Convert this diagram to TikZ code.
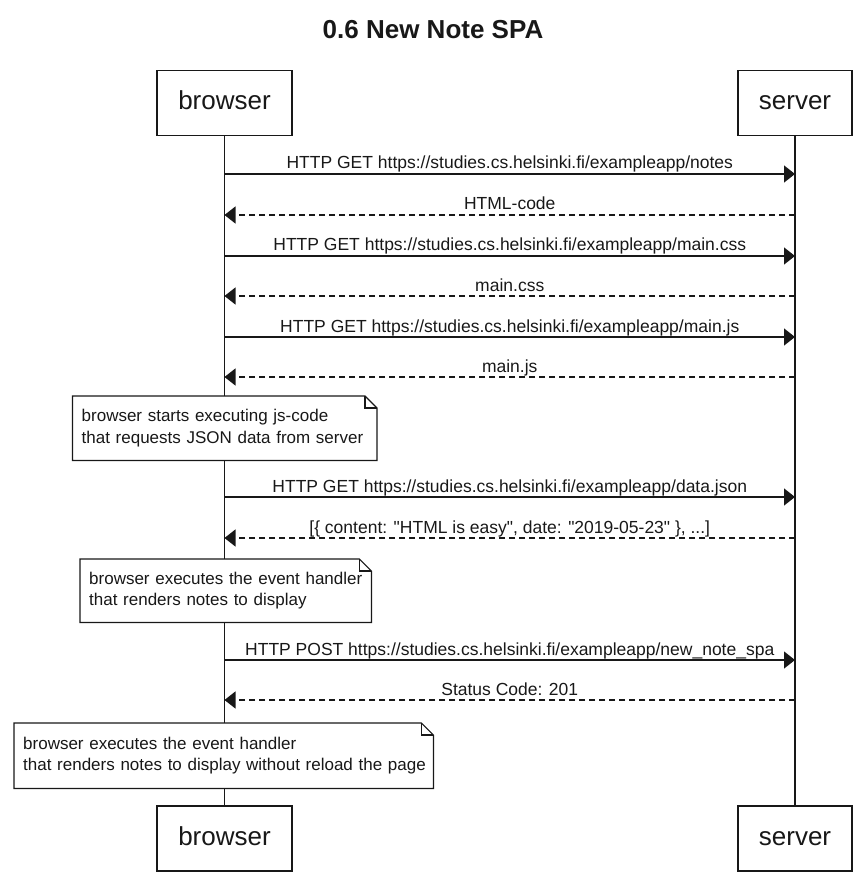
\documentclass[tikz,border=0pt]{standalone}
\usepackage{fontspec}
\setmainfont{Liberation Sans}[Ligatures=TeXOff]
\usepackage{xcolor}
\usetikzlibrary{arrows.meta, positioning, calc}
\definecolor{umlBlack}{HTML}{181818}
\definecolor{noteBg}{HTML}{FFFFFF}

% folded corner outline round a note node
\newcommand{\notefold}[1]{%
  \draw[noteline] (#1.north west) -- ([xshift=-12pt]#1.north east)
    -- ([yshift=-12pt]#1.north east) -- (#1.south east)
    -- (#1.south west) -- cycle;
  \draw[noteline] ([xshift=-12pt]#1.north east) |- ([yshift=-12pt]#1.north east);
}

\begin{document}
\begin{tikzpicture}[
  x=1pt, y=-1pt,
  every node/.style={font=\fontsize{17.5}{21}\selectfont, text=umlBlack},
  actor/.style={
    draw=umlBlack, line width=1.2pt, fill=white,
    minimum height=65pt, align=center, inner sep=0pt,
    text height=18pt, text depth=5pt,
    font=\fontsize{26}{30}\selectfont
  },
  title/.style={font=\fontsize{26}{30}\selectfont\bfseries},
  notebox/.style={
    fill=noteBg, anchor=north west, align=left,
    inner xsep=9pt, inner ysep=0pt,
    font=\fontsize{17}{21.5}\selectfont
  },
  noteline/.style={draw=umlBlack, line width=1.2pt},
  lifeline/.style={draw=umlBlack, line width=1.2pt},
  msg/.style={-{Triangle[length=11pt, width=17pt]}, line width=1.2pt, draw=umlBlack},
  reply/.style={msg, dash pattern=on 6pt off 4pt},
  msglabel/.style={midway, anchor=base, yshift=5pt, inner sep=0pt}
]
\useasboundingbox (0,0) rectangle (866,882);

\node[title] (heading) at (433,30) {0.6 New Note SPA};

% participants
\node[actor, minimum width=135pt] (browserTop) at (224.5,103) {browser};
\node[actor, minimum width=114pt] (serverTop) at (795,103) {server};
\node[actor, minimum width=135pt] (browserBot) at (224.5,838.5) {browser};
\node[actor, minimum width=114pt] (serverBot) at (795,838.5) {server};

\draw[lifeline] (browserTop.south) -- (browserBot.north);
\draw[lifeline] (serverTop.south) -- (serverBot.north);

% message levels on the lifelines
\coordinate (b1) at (224.5,174);  \coordinate (s1) at (795,174);
\coordinate (b2) at (224.5,215);  \coordinate (s2) at (795,215);
\coordinate (b3) at (224.5,256);  \coordinate (s3) at (795,256);
\coordinate (b4) at (224.5,296);  \coordinate (s4) at (795,296);
\coordinate (b5) at (224.5,337);  \coordinate (s5) at (795,337);
\coordinate (b6) at (224.5,377);  \coordinate (s6) at (795,377);
\coordinate (b7) at (224.5,497);  \coordinate (s7) at (795,497);
\coordinate (b8) at (224.5,538);  \coordinate (s8) at (795,538);
\coordinate (b9) at (224.5,660);  \coordinate (s9) at (795,660);
\coordinate (b10) at (224.5,700); \coordinate (s10) at (795,700);

% page load
\draw[msg] (b1) -- node[msglabel]{HTTP GET https://studies.cs.helsinki.fi/exampleapp/notes} (s1);
\draw[reply] (s2) -- node[msglabel]{HTML-code} (b2);
\draw[msg] (b3) -- node[msglabel]{HTTP GET https://studies.cs.helsinki.fi/exampleapp/main.css} (s3);
\draw[reply] (s4) -- node[msglabel]{main.css} (b4);
\draw[msg] (b5) -- node[msglabel]{HTTP GET https://studies.cs.helsinki.fi/exampleapp/main.js} (s5);
\draw[reply] (s6) -- node[msglabel]{main.js} (b6);

\node[notebox, text width=286pt, minimum height=64pt] (note1) at (72.5,396) {%
  \mbox{browser starts executing js-code}\\
  \mbox{that requests JSON data from server}};
\notefold{note1}

% data
\draw[msg] (b7) -- node[msglabel]{HTTP GET https://studies.cs.helsinki.fi/exampleapp/data.json} (s7);
\draw[reply] (s8) -- node[msglabel]{[\{ content: "HTML is easy", date: "2019-05-23" \}, ...]} (b8);

\node[notebox, text width=273pt, minimum height=63pt] (note2) at (80,559) {%
  \mbox{browser executes the event handler}\\
  \mbox{that renders notes to display}};
\notefold{note2}

% new note
\draw[msg] (b9) -- node[msglabel]{HTTP POST https://studies.cs.helsinki.fi/exampleapp/new\_note\_spa} (s9);
\draw[reply] (s10) -- node[msglabel]{Status Code: 201} (b10);

\node[notebox, text width=401pt, minimum height=65pt] (note3) at (14,723) {%
  \mbox{browser executes the event handler}\\
  \mbox{that renders notes to display without reload the page}};
\notefold{note3}

\end{tikzpicture}
\end{document}
